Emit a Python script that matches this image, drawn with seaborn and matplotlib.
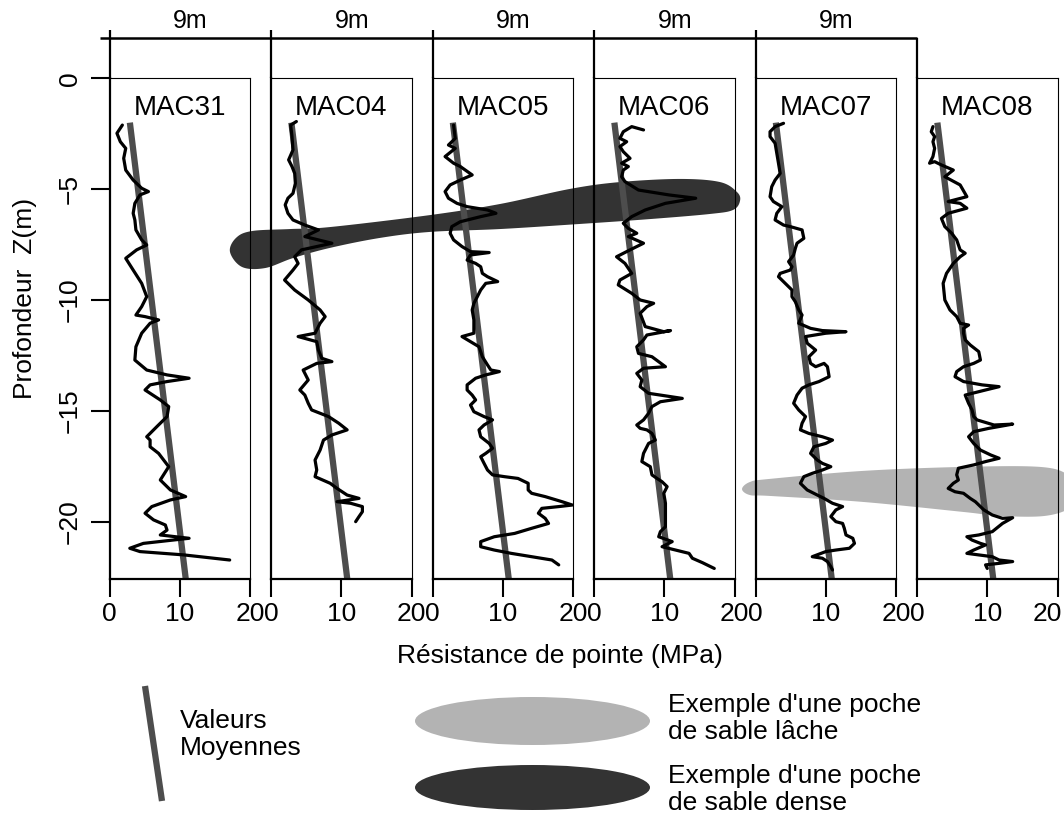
import numpy as np
import matplotlib
matplotlib.use("Agg")
import matplotlib.pyplot as plt
from matplotlib.patches import Ellipse
from matplotlib.transforms import ScaledTranslation
import seaborn as sns

sns.set_style("ticks")
plt.rcParams['font.family'] = ['Liberation Sans', 'DejaVu Sans']
plt.rcParams['text.color'] = 'black'
plt.rcParams['axes.labelcolor'] = 'black'
plt.rcParams['xtick.color'] = 'black'
plt.rcParams['ytick.color'] = 'black'
plt.rcParams['axes.edgecolor'] = 'black'

# ---------------- data ----------------
sondages = ["MAC31", "MAC04", "MAC05", "MAC06", "MAC07", "MAC08"]
spacing_m = [9, 9, 9, 9, 9]
x_ticks = [0, 10, 20]
y_ticks = [0, -5, -10, -15, -20]

mac31_q = [1.83,1.06,1.54,2.31,2.02,2.31,3.37,4.58,5.54,4.34,3.61,3.37,3.61,3.76,4.58,5.30,3.86,2.31,3.37,4.58,
           5.30,4.58,3.76,5.06,6.99,5.78,4.58,3.76,3.61,5.30,8.19,11.33,8.19,5.78,5.06,7.23,8.43,8.19,6.75,5.30,
           5.78,5.78,6.99,8.43,7.23,8.67,10.84,8.67,6.02,5.06,6.27,7.95,8.19,7.23,11.33,8.19,4.82,2.89,4.34,10.60,17.11]
mac31_z = [-2.11,-2.48,-2.86,-3.16,-3.61,-4.14,-4.59,-4.96,-5.11,-5.26,-5.64,-6.09,-6.39,-6.84,-7.29,-7.52,-7.74,-8.12,-8.65,-9.25,
           -9.85,-10.30,-10.68,-10.75,-10.90,-11.05,-11.50,-12.11,-12.71,-13.16,-13.38,-13.53,-13.68,-13.83,-14.06,-14.51,-14.81,-15.26,-15.71,-16.17,
           -16.32,-16.62,-16.92,-17.52,-18.12,-18.57,-18.87,-19.02,-19.32,-19.62,-19.92,-20.15,-20.38,-20.60,-20.75,-20.86,-20.98,-21.20,-21.35,-21.50,-21.73]

mac04_q = [3.61,2.80,2.99,3.13,2.51,2.99,3.37,3.47,3.13,2.41,2.02,2.41,3.13,4.82,6.75,4.82,8.67,4.34,3.37,3.86,
           3.13,1.93,3.37,5.30,6.99,7.71,6.99,6.27,3.86,6.51,6.75,7.23,8.67,6.51,4.58,5.30,4.10,4.82,5.30,5.78,
           8.19,9.64,10.84,8.67,7.47,6.99,6.27,6.51,6.27,8.43,9.40,10.12,10.84,12.53,9.40,11.33,13.01,13.01,12.53,12.05]
mac04_z = [-1.95,-2.11,-2.63,-3.23,-3.68,-3.98,-4.29,-4.74,-5.19,-5.41,-5.71,-6.09,-6.39,-6.62,-6.84,-7.14,-7.44,-7.74,-8.05,-8.35,
           -8.65,-9.10,-9.55,-10.0,-10.45,-10.75,-11.05,-11.50,-11.65,-11.88,-12.26,-12.63,-12.78,-12.86,-13.16,-13.61,-14.06,-14.29,-14.66,-14.96,
           -15.26,-15.56,-15.86,-16.09,-16.32,-16.77,-17.22,-17.67,-17.97,-18.27,-18.50,-18.65,-18.80,-18.95,-19.10,-19.17,-19.32,-19.55,-19.77,-20.0]

mac05_q = [3.00,3.24,2.27,3.24,1.79,3.00,3.96,5.65,3.96,2.51,1.79,2.27,3.48,4.93,7.83,9.03,6.86,3.96,2.75,2.51,
           3.00,4.20,5.41,8.07,5.41,4.93,6.14,6.86,7.10,7.83,9.28,7.58,6.86,6.38,5.89,5.65,5.89,5.89,4.20,5.41,
           6.62,7.10,7.83,8.31,9.52,7.58,6.14,4.93,4.93,5.65,6.14,5.41,5.89,7.34,8.55,7.34,6.62,6.86,8.07,8.55,
           7.58,6.86,7.34,7.83,8.55,10.24,12.17,13.62,13.62,14.11,16.04,18.45,19.90,17.97,15.56,15.07,16.04,16.52,14.11,11.69,
           8.79,6.86,6.86,8.79,11.21,14.11,17.00,17.97]
mac05_z = [-2.11,-2.71,-3.01,-3.16,-3.53,-3.83,-3.98,-4.36,-4.59,-4.81,-5.11,-5.41,-5.64,-5.79,-5.94,-6.09,-6.24,-6.47,-6.69,-6.99,
           -7.29,-7.59,-7.82,-7.86,-7.97,-8.20,-8.35,-8.50,-8.80,-8.95,-9.17,-9.25,-9.55,-9.85,-10.15,-10.45,-10.90,-11.50,-11.65,-11.88,
           -12.11,-12.56,-12.93,-13.16,-13.23,-13.38,-13.53,-13.83,-14.06,-14.29,-14.51,-14.74,-15.04,-15.26,-15.41,-15.64,-15.86,-16.17,-16.47,-16.69,
           -16.92,-17.07,-17.37,-17.67,-17.89,-17.97,-18.05,-18.27,-18.57,-18.72,-18.87,-19.10,-19.25,-19.32,-19.40,-19.62,-19.85,-20.08,-20.30,-20.53,
           -20.68,-20.90,-21.13,-21.28,-21.43,-21.58,-21.73,-21.95]

mac06_q = [7.05,5.37,4.17,3.69,4.65,3.69,4.17,5.13,3.93,4.89,4.17,3.93,4.41,6.33,10.65,14.48,10.17,7.29,5.37,4.17,
           4.89,6.09,4.89,7.05,5.13,3.21,4.41,5.37,3.69,3.45,5.37,6.57,8.49,7.53,6.57,7.29,9.93,10.89,7.53,7.05,
           6.09,6.33,8.25,10.17,7.05,6.09,6.81,6.57,7.77,9.45,12.57,9.45,8.25,7.77,7.05,6.09,6.57,7.53,8.25,8.73,
           7.77,7.05,6.81,8.01,8.25,8.97,9.69,10.41,9.93,10.17,10.17,10.17,9.45,9.21,11.13,9.69,11.61,13.53,14.0,15.44,17.12]
mac06_z = [-2.33,-2.18,-2.41,-2.71,-2.86,-3.08,-3.31,-3.61,-3.83,-3.98,-4.14,-4.44,-4.66,-5.04,-5.26,-5.41,-5.64,-5.94,-6.24,-6.54,
           -6.77,-6.99,-7.14,-7.44,-7.74,-8.05,-8.35,-8.80,-9.10,-9.32,-9.70,-10.0,-10.15,-10.30,-10.60,-11.20,-11.43,-11.38,-11.58,-11.80,
           -12.11,-12.41,-12.56,-13.01,-13.08,-13.31,-13.61,-13.91,-14.21,-14.29,-14.44,-14.59,-14.81,-15.11,-15.41,-15.64,-15.79,-15.86,-16.02,-16.32,
           -16.47,-16.92,-17.29,-17.52,-17.89,-18.05,-18.20,-18.42,-18.72,-19.17,-19.77,-20.23,-20.45,-20.68,-20.90,-21.13,-21.28,-21.43,-21.65,-21.85,-22.11]

mac07_q = [3.99,2.79,2.07,2.07,2.79,3.03,3.27,3.51,2.79,2.31,2.07,2.55,3.75,3.03,2.79,3.99,4.95,6.63,6.88,5.91,
           5.67,5.43,4.71,5.19,4.95,3.51,3.27,4.23,5.19,5.19,5.67,6.15,6.63,6.15,7.84,9.52,12.88,10.0,7.12,7.36,
           8.56,7.60,7.84,8.56,9.76,10.24,10.48,9.04,7.60,6.63,5.91,5.43,6.15,7.12,6.63,6.39,7.60,9.52,10.96,10.0,
           8.32,7.84,8.80,9.52,10.72,9.52,8.08,6.88,6.39,7.36,8.80,9.76,10.96,12.40,11.44,10.72,11.44,12.40,12.64,12.88,
           13.85,14.09,13.37,11.44,10.0,8.08,9.52,10.24,10.72,10.96]
mac07_z = [-2.03,-2.18,-2.41,-2.63,-2.93,-3.38,-3.83,-4.29,-4.59,-4.89,-5.34,-5.56,-5.79,-6.09,-6.39,-6.62,-6.69,-6.84,-7.22,-7.44,
           -7.67,-7.97,-8.27,-8.50,-8.65,-8.80,-8.95,-9.25,-9.55,-9.85,-10.08,-10.45,-10.68,-11.05,-11.28,-11.38,-11.43,-11.50,-11.65,-11.95,
           -12.26,-12.56,-12.86,-13.01,-12.86,-13.01,-13.46,-13.68,-13.83,-13.98,-14.29,-14.66,-14.96,-15.26,-15.56,-15.86,-16.02,-16.17,-16.32,-16.47,
           -16.62,-16.92,-17.22,-17.37,-17.52,-17.67,-17.82,-17.97,-18.27,-18.57,-18.80,-18.95,-19.17,-19.32,-19.47,-19.77,-20.0,-20.08,-20.30,-20.60,
           -20.75,-20.98,-21.20,-21.28,-21.35,-21.58,-21.65,-21.80,-22.03,-22.18]

mac08_q = [2.27,2.03,2.51,2.27,2.51,2.27,1.79,2.51,3.48,5.17,3.96,6.14,7.10,4.44,6.14,7.10,4.44,3.48,3.96,4.93,
           5.65,6.14,6.86,6.14,5.17,4.20,3.72,3.96,4.69,5.65,6.14,7.34,6.62,6.62,6.86,7.58,8.79,9.03,8.07,6.62,
           5.65,5.41,6.62,9.28,11.69,9.76,6.86,7.34,7.83,8.07,8.55,10.97,13.62,10.24,8.07,7.34,8.07,9.03,10.48,11.69,
           9.76,8.07,5.89,5.65,5.89,5.17,4.44,5.41,6.62,7.58,8.31,9.52,10.72,12.17,13.62,12.17,10.72,8.79,7.10,7.83,
           9.03,9.76,8.07,7.10,8.79,10.72,11.69,13.62,11.69,9.76,10.0]
mac08_z = [-2.18,-2.41,-2.63,-2.86,-3.16,-3.53,-3.83,-3.76,-3.91,-4.14,-4.44,-4.81,-5.34,-5.56,-5.64,-5.86,-6.09,-6.32,-6.69,-6.99,
           -7.29,-7.74,-7.89,-8.05,-8.35,-8.80,-9.25,-10.0,-10.45,-10.75,-11.05,-11.13,-11.28,-11.50,-11.80,-12.03,-12.33,-12.71,-12.86,-13.01,
           -13.23,-13.46,-13.68,-13.83,-13.91,-14.06,-14.29,-14.66,-14.96,-15.26,-15.41,-15.64,-15.60,-15.79,-15.94,-16.17,-16.47,-16.77,-16.99,-17.14,
           -17.29,-17.44,-17.59,-17.89,-18.12,-18.27,-18.50,-18.65,-18.72,-18.95,-19.10,-19.47,-19.70,-19.85,-19.82,-20.08,-20.45,-20.60,-20.68,-20.83,
           -20.98,-21.05,-21.28,-21.43,-21.50,-21.58,-21.73,-21.80,-21.88,-21.95,-22.11]

profiles_q = [mac31_q, mac04_q, mac05_q, mac06_q, mac07_q, mac08_q]
profiles_z = [mac31_z, mac04_z, mac05_z, mac06_z, mac07_z, mac08_z]

# mean-value trend (same in every panel)
mean_q = [2.9, 10.9]
mean_z = [-2.0, -22.7]

# sand pockets, in transect coordinates (x: MPa-equivalent along the line of soundings, z: depth m)
dense_pocket_x = [17.15,18.01,20.28,25.69,31.39,45.62,55.59,65.55,72.67,81.21,86.90,89.32,
                  89.75,88.75,85.48,76.94,66.98,55.59,45.62,38.51,31.39,26.12,22.14,18.86]
dense_pocket_z = [-7.83,-7.20,-6.89,-6.80,-6.71,-6.17,-5.67,-4.99,-4.68,-4.54,-4.68,-5.13,
                  -5.53,-5.94,-6.12,-6.35,-6.57,-6.80,-6.93,-7.20,-7.65,-8.11,-8.56,-8.51]
loose_pocket_x = [90.04,91.17,94.02,107.26,121.49,132.46,136.44,137.72,136.87,133.17,126.76,121.49,107.26,94.02,91.17]
loose_pocket_z = [-18.53,-18.21,-18.07,-17.71,-17.53,-17.53,-17.89,-18.57,-19.34,-19.74,-19.74,-19.56,-19.11,-18.84,-18.80]

# ---------------- styling ----------------
W, H = 1064, 814
DARK = '#333333'
LIGHT = '#b3b3b3'
MEANC = '#4d4d4d'
FS = 19

panel_left = [109.5 + 161.5 * i for i in range(6)]
panel_w = 140.5
top_px, bot_px = 78.3, 579.3
ylim = (-22.6, 0.0)


def smooth_closed(xs, ys, n=24):
    P = np.column_stack([xs, ys]).astype(float)
    N = len(P)
    t = np.linspace(0, 1, n, endpoint=False)[:, None]
    segs = []
    for i in range(N):
        p0, p1, p2, p3 = P[i - 1], P[i], P[(i + 1) % N], P[(i + 2) % N]
        segs.append(0.5 * (2 * p1 + (p2 - p0) * t + (2 * p0 - 5 * p1 + 4 * p2 - p3) * t ** 2
                           + (3 * p1 - p0 - 3 * p2 + p3) * t ** 3))
    S = np.vstack(segs)
    return S[:, 0], S[:, 1]


fig = plt.figure(figsize=(W / 100, H / 100), dpi=100)
fig.patch.set_facecolor('white')

# decoration layer in pixel coordinates
ax_d = fig.add_axes([0, 0, 1, 1])
ax_d.set_xlim(0, W)
ax_d.set_ylim(H, 0)
ax_d.axis('off')
ax_d.set_zorder(0)

# pocket layer in transect coordinates
fb = 1 - bot_px / H
fh = (bot_px - top_px) / H
ax_p = fig.add_axes([panel_left[0] / W, fb, (panel_left[-1] + panel_w - panel_left[0]) / W, fh])
ax_p.set_xlim(0, (panel_left[-1] + panel_w - panel_left[0]) / (panel_w / 20))
ax_p.set_ylim(*ylim)
ax_p.axis('off')
ax_p.set_zorder(1)
sx, sz = smooth_closed(dense_pocket_x, dense_pocket_z)
ax_p.fill(sx, sz, color=DARK, lw=0, clip_on=False)
sx, sz = smooth_closed(loose_pocket_x, loose_pocket_z)
ax_p.fill(sx, sz, color=LIGHT, lw=0, clip_on=False)

# panels
for i, name in enumerate(sondages):
    ax = fig.add_axes([panel_left[i] / W, fb, panel_w / W, fh])
    ax.set_facecolor('none')
    ax.set_zorder(2)
    sns.lineplot(x=mean_q, y=mean_z, ax=ax, color=MEANC, lw=4.5, sort=False,
                 estimator=None, solid_capstyle='butt')
    sns.lineplot(x=profiles_q[i], y=profiles_z[i], ax=ax, color='black', lw=2.3,
                 sort=False, estimator=None, solid_joinstyle='round')
    ax.set_xlim(0, 20)
    ax.set_ylim(*ylim)
    ax.set_xlabel('')
    ax.set_ylabel('')
    for s in ['left', 'bottom']:
        ax.spines[s].set_linewidth(1.6)
        ax.spines[s].set_color('black')
    for s in ['top', 'right']:
        ax.spines[s].set_linewidth(0.8)
        ax.spines[s].set_color('black')
    ax.set_xticks(x_ticks)
    ax.tick_params(axis='x', direction='out', length=13, width=1.5, labelsize=FS, pad=3,
                   color='black', labelcolor='black')
    if i == 0:
        ax.set_yticks(y_ticks)
        ax.tick_params(axis='y', direction='out', length=14, width=1.5, labelsize=FS, pad=6,
                       labelrotation=90, color='black', labelcolor='black')
        for lab in ax.get_yticklabels():
            lab.set_va('center')
    else:
        ax.set_yticks([])
    if i == len(sondages) - 1:
        last = ax.get_xticklabels()[-1]
        last.set_ha('right')
        last.set_transform(last.get_transform() + ScaledTranslation(5 / 100, 0, fig.dpi_scale_trans))
    ax.text(0.5, 1 - (115 - top_px) / (bot_px - top_px), name, transform=ax.transAxes,
            ha='center', va='baseline', fontsize=20, color='black')

# spacing bracket on top
ax_d.plot([100, panel_left[5]], [38, 38], color='black', lw=1.8, solid_capstyle='butt')
for i in range(5):
    ax_d.plot([panel_left[i]] * 2, [30, top_px], color='black', lw=1.6, solid_capstyle='butt')
    ax_d.text((panel_left[i] + panel_left[i + 1]) / 2, 21, f"{spacing_m[i]}m",
              ha='center', va='center', fontsize=18, color='black')
ax_d.plot([panel_left[5]] * 2, [38, top_px], color='black', lw=1.6, solid_capstyle='butt')

# axis titles
ax_d.text(560, 656, "Résistance de pointe (MPa)", ha='center', va='center', fontsize=FS, color='black')
ax_d.text(25, 298, "Profondeur  Z(m)", rotation=90, ha='center', va='center', fontsize=FS, color='black')

# legend
ax_d.plot([145, 162], [686, 801], color=MEANC, lw=4.5, solid_capstyle='butt')
ax_d.text(180, 721, "Valeurs", ha='left', va='center', fontsize=FS, color='black')
ax_d.text(180, 748, "Moyennes", ha='left', va='center', fontsize=FS, color='black')
ax_d.add_patch(Ellipse((532.5, 721), 235, 48, color=LIGHT, lw=0))
ax_d.add_patch(Ellipse((532.5, 787.5), 235, 45, color=DARK, lw=0))
ax_d.text(668, 705, "Exemple d'une poche", ha='left', va='center', fontsize=FS, color='black')
ax_d.text(668, 732, "de sable lâche", ha='left', va='center', fontsize=FS, color='black')
ax_d.text(668, 776, "Exemple d'une poche", ha='left', va='center', fontsize=FS, color='black')
ax_d.text(668, 803, "de sable dense", ha='left', va='center', fontsize=FS, color='black')

fig.savefig("out.png", dpi=100, facecolor='white')
